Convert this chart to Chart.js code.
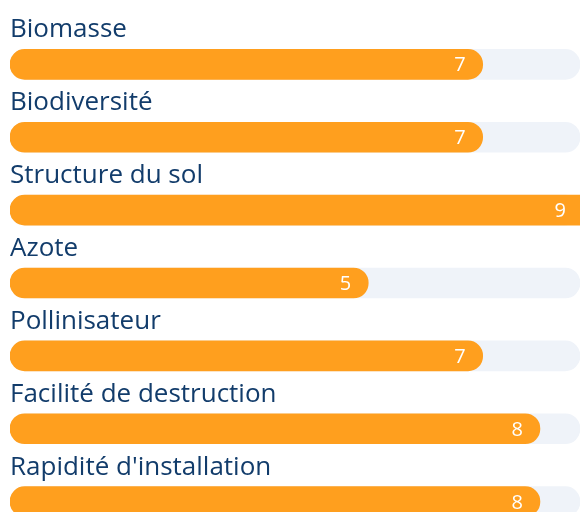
<!DOCTYPE html>
<html>

<head>
  <title>Critères</title>
  <script src="https://cdn.jsdelivr.net/npm/chart.js@4.4.0/dist/chart.umd.min.js"></script>
  <style>
    html, body { margin: 0; padding: 0; overflow: hidden; background: #fff; }
    #wrap { position: relative; width: 581px; height: 560px; }
  </style>
</head>

<body>
  <div id="wrap"><canvas id="barChart"></canvas></div>
  <script>
    const categories = ['Biomasse', 'Biodiversité', 'Structure du sol', 'Azote', 'Pollinisateur',
      'Facilité de destruction', "Rapidité d'installation"];
    const scores = [7, 7, 9, 5, 7, 8, 8];
    const scaleMin = -1.26;
    const scaleMax = 8.7;
    const track = categories.map(() => scaleMax);

    const textColor = '#123c6b';
    const barColor = '#ff9f1e';
    const trackColor = '#eff3f9';

    // labels above the bars and value inside the bar end
    const labelPlugin = {
      id: 'labels',
      afterDatasetsDraw(chart) {
        const ctx = chart.ctx;
        const meta = chart.getDatasetMeta(0);
        const area = chart.chartArea;
        ctx.save();
        meta.data.forEach((bar, i) => {
          const top = bar.y - 15;
          ctx.fillStyle = textColor;
          ctx.font = '26px "Open Sans"';
          ctx.textAlign = 'left';
          ctx.textBaseline = 'alphabetic';
          ctx.fillText(categories[i], area.left, top - 12);

          ctx.fillStyle = '#fff';
          ctx.font = '20px "Open Sans"';
          ctx.textAlign = 'right';
          ctx.fillText(String(scores[i]), Math.min(bar.x, area.right + 3) - 17, bar.y + 7);
        });
        ctx.restore();
      }
    };

    const ctx = document.getElementById('barChart').getContext('2d');
    new Chart(ctx, {
      type: 'bar',
      data: {
        labels: categories,
        datasets: [{
          data: scores,
          base: scaleMin,
          backgroundColor: barColor,
          borderRadius: 15,
          borderSkipped: false,
          barThickness: 30,
          grouped: false
        }, {
          data: track,
          base: scaleMin,
          backgroundColor: trackColor,
          borderRadius: 15,
          borderSkipped: false,
          barThickness: 30,
          grouped: false
        }]
      },
      options: {
        indexAxis: 'y',
        responsive: true,
        maintainAspectRatio: false,
        animation: false,
        layout: { padding: { left: 10, right: 1, top: 28, bottom: 22 } },
        scales: {
          x: { display: false, min: scaleMin, max: scaleMax },
          y: { display: false }
        },
        plugins: {
          legend: { display: false },
          tooltip: { enabled: false }
        }
      },
      plugins: [labelPlugin]
    });
  </script>
</body>

</html>
